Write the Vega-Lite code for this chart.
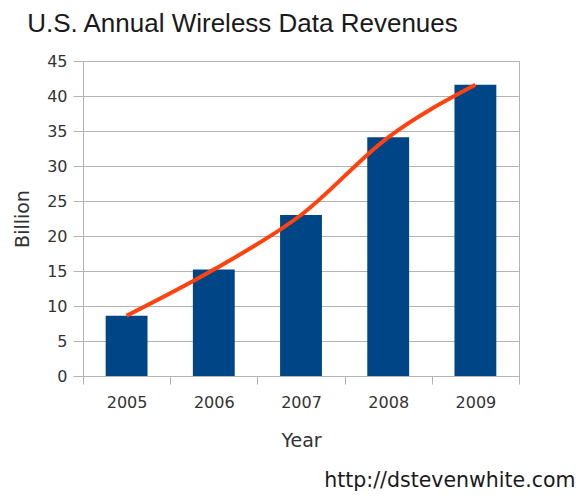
{
  "$schema": "https://vega.github.io/schema/vega-lite/v6.json",
  "padding": {"left": 13, "top": 10, "right": 0, "bottom": 0},
  "background": "white",
  "title": {
    "text": "U.S. Annual Wireless Data Revenues",
    "anchor": "start",
    "dx": 14,
    "font": "Liberation Sans",
    "fontSize": 26,
    "fontWeight": "normal",
    "color": "#1a1a1a",
    "offset": 16
  },
  "data": {
    "values": [
      {"year": "2005", "revenue": 8.6},
      {"year": "2006", "revenue": 15.2},
      {"year": "2007", "revenue": 23.0},
      {"year": "2008", "revenue": 34.1},
      {"year": "2009", "revenue": 41.6}
    ]
  },
  "vconcat": [
    {
      "width": 436,
      "height": 315,
      "title": {
        "text": "http://dstevenwhite.com",
        "orient": "bottom",
        "anchor": "end",
        "dx": 56,
        "offset": 21,
        "font": "DejaVu Sans",
        "fontSize": 20.5,
        "fontWeight": "normal",
        "color": "#1a1a1a"
      },
      "encoding": {
        "x": {
          "field": "year",
          "type": "ordinal",
          "scale": {"paddingInner": 0, "paddingOuter": 0},
          "axis": {
            "title": "Year",
            "labelAngle": 0,
            "tickBand": "extent",
            "tickSize": 8,
            "tickColor": "#b3b3b3",
            "domainColor": "#b3b3b3",
            "labelFont": "DejaVu Sans",
            "labelFontSize": 16,
            "labelColor": "#333333",
            "labelPadding": 10,
            "titleFont": "DejaVu Sans",
            "titleFontSize": 19,
            "titleFontWeight": "normal",
            "titleColor": "#333333",
            "titlePadding": 21
          }
        },
        "y": {
          "field": "revenue",
          "type": "quantitative",
          "scale": {"domain": [0, 45], "nice": false},
          "axis": {
            "title": "Billion",
            "values": [0, 5, 10, 15, 20, 25, 30, 35, 40, 45],
            "labelOverlap": false,
            "grid": true,
            "gridColor": "#b3b3b3",
            "gridWidth": 1,
            "tickSize": 10,
            "tickColor": "#b3b3b3",
            "domainColor": "#b3b3b3",
            "labelFont": "DejaVu Sans",
            "labelFontSize": 16,
            "labelColor": "#333333",
            "labelPadding": 6,
            "titleFont": "DejaVu Sans",
            "titleFontSize": 19,
            "titleFontWeight": "normal",
            "titleColor": "#333333",
            "titlePadding": 14
          }
        }
      },
      "layer": [
        {
          "mark": {"type": "bar", "color": "#004586", "width": {"band": 0.48}}
        },
        {
          "mark": {"type": "line", "color": "#ff420e", "strokeWidth": 4, "interpolate": "monotone"}
        }
      ]
    }
  ],
  "config": {"view": {"stroke": "#b3b3b3"}}
}
